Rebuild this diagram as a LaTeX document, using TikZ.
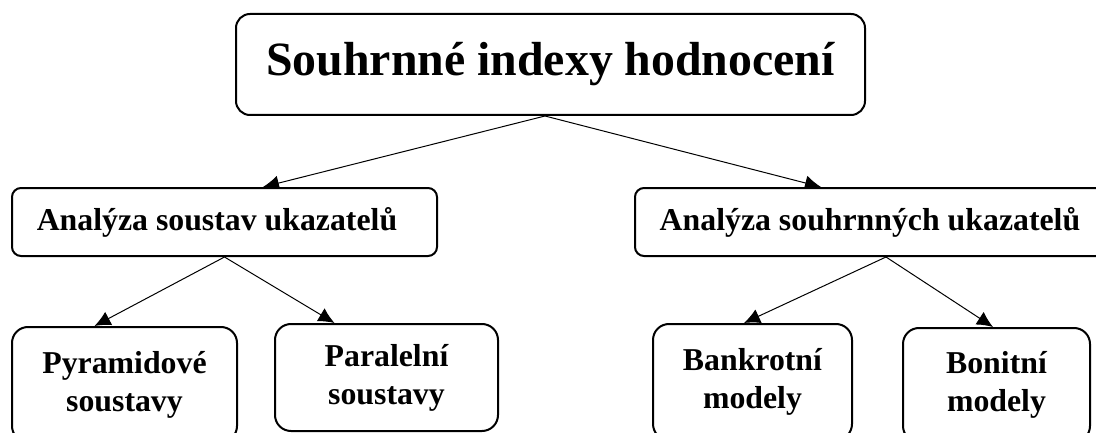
\documentclass[tikz,border=0pt]{standalone}
\usepackage{fontspec}
\setmainfont{Liberation Serif}
\usetikzlibrary{arrows.meta,backgrounds,calc}
\tikzset{
  box/.style={draw, line width=2pt, fill=white, inner sep=0pt, align=center,
    font=\bfseries\fontsize{31.8}{38}\selectfont},
  arr/.style={-{Latex[length=16pt,width=15pt]}, line width=1pt},
}
\begin{document}
\begin{tikzpicture}[x=1pt,y=1pt]
\useasboundingbox (0,0) rectangle (1096,432);
\clip (0,0) rectangle (1096,432);
\node[box, rounded corners=14pt, minimum width=629pt, minimum height=101pt,
  font=\bfseries\fontsize{47.8}{57}\selectfont] (top) at (550.5,367.5) {Souhrnné indexy hodnocení};
\node[box, rounded corners=9pt, minimum width=425pt, minimum height=68pt] (m1) at (224.5,210) {\hspace*{-15pt}Analýza soustav ukazatelů};
\node[box, rounded corners=9pt, minimum width=470pt, minimum height=68pt] (m2) at (870,210) {Analýza souhrnných ukazatelů};
\node[box, rounded corners=16pt, minimum width=225pt, minimum height=115pt] (pyr) at (124.5,47.5) {Pyramidové\\soustavy};
\node[box, rounded corners=16pt, minimum width=223pt, minimum height=107pt] (par) at (386.5,54.5) {Paralelní\\soustavy};
\node[box, rounded corners=16pt, minimum width=199pt, minimum height=116pt] (bank) at (752.5,50) {Bankrotní\\modely};
\node[box, rounded corners=16pt, minimum width=187pt, minimum height=114pt] (bon) at (996.5,47) {Bonitní\\modely};
\begin{scope}[on background layer]
\draw[arr] ([xshift=-5.5pt]top.south) -- ([xshift=38.5pt]m1.north);
\draw[arr] ([xshift=-5.5pt]top.south) -- ([xshift=-49pt]m2.north);
\draw[arr] (m1.south) -- ([xshift=-30pt]pyr.north);
\draw[arr] (m1.south) -- ([xshift=-52pt]par.north);
\draw[arr] ([xshift=16pt]m2.south) -- ([xshift=-8.5pt]bank.north);
\draw[arr] ([xshift=16pt]m2.south) -- ([xshift=-3.5pt]bon.north);
\end{scope}
\end{tikzpicture}
\end{document}
